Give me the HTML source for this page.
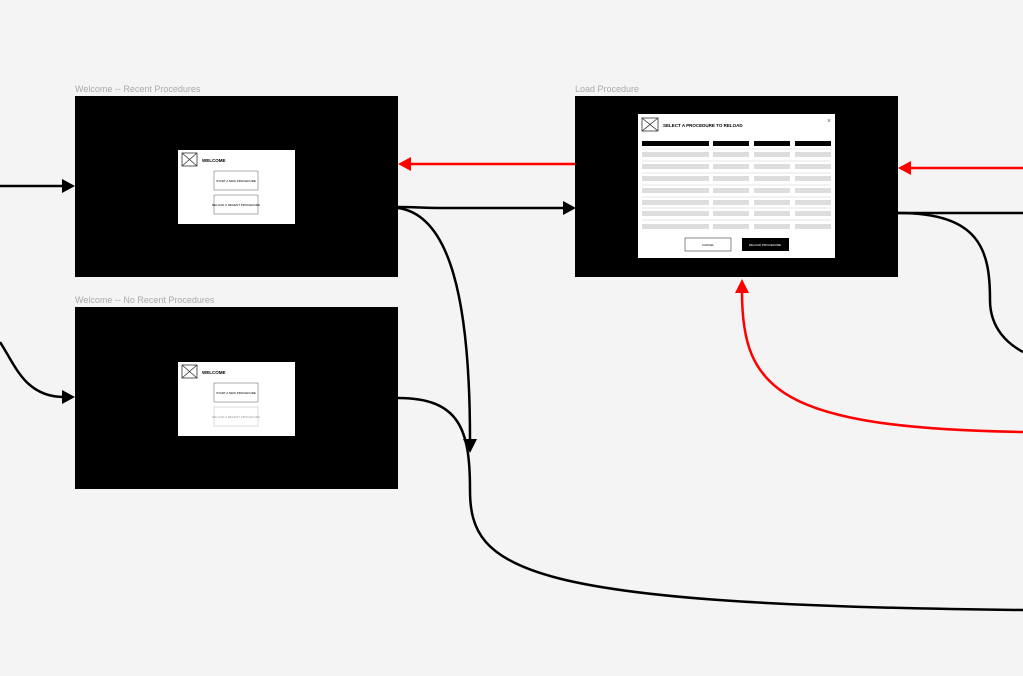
<!DOCTYPE html>
<html><head><style>
body{margin:0;background:#f4f4f4;font-family:"Liberation Sans",sans-serif;}
</style></head><body>
<svg width="1023" height="676" xmlns="http://www.w3.org/2000/svg" style="display:block">
<rect width="1023" height="676" fill="#f4f4f4"/>
<g font-family="Liberation Sans, sans-serif" font-size="9" fill="#aaa">
<text x="75" y="92">Welcome -- Recent Procedures</text>
<text x="75" y="303">Welcome -- No Recent Procedures</text>
<text x="575" y="92">Load Procedure</text>
</g>
<rect x="75" y="96" width="323" height="181" fill="#000"/>
<rect x="75" y="307" width="323" height="182" fill="#000"/>
<rect x="575" y="96" width="323" height="181" fill="#000"/>
<!-- welcome 1 -->
<g>
<rect x="178" y="150" width="117" height="74" fill="#fff"/>
<rect x="182" y="153" width="15" height="13" fill="none" stroke="#333" stroke-width="0.8"/>
<path d="M182,153 L197,166 M197,153 L182,166" stroke="#333" stroke-width="0.8"/>
<text x="202" y="162" font-size="4.5" font-weight="bold">WELCOME</text>
<rect x="214" y="171" width="44" height="19" fill="#fff" stroke="#888" stroke-width="0.7"/>
<text x="236" y="182" font-size="3" text-anchor="middle">START A NEW PROCEDURE</text>
<rect x="214" y="195" width="44" height="19" fill="#fff" stroke="#888" stroke-width="0.7"/>
<text x="236" y="206" font-size="3" text-anchor="middle">RELOAD A RECENT PROCEDURE</text>
</g>
<g>
<rect x="178" y="362" width="117" height="74" fill="#fff"/>
<rect x="182" y="365" width="15" height="13" fill="none" stroke="#333" stroke-width="0.8"/>
<path d="M182,365 L197,378 M197,365 L182,378" stroke="#333" stroke-width="0.8"/>
<text x="202" y="374" font-size="4.5" font-weight="bold">WELCOME</text>
<rect x="214" y="383" width="44" height="19" fill="#fff" stroke="#888" stroke-width="0.7"/>
<text x="236" y="394" font-size="3" text-anchor="middle">START A NEW PROCEDURE</text>
<rect x="214" y="407" width="44" height="19" fill="#fff" stroke="#ccc" stroke-width="0.7"/>
<text x="236" y="418" font-size="3" text-anchor="middle" fill="#999">RELOAD A RECENT PROCEDURE</text>
</g>
<!-- dialog -->
<g>
<rect x="638" y="114" width="197" height="144" fill="#fff"/>
<rect x="642" y="118" width="16" height="13" fill="none" stroke="#333" stroke-width="0.8"/>
<path d="M642,118 L658,131 M658,118 L642,131" stroke="#333" stroke-width="0.8"/>
<text x="663" y="127" font-size="4.5" font-weight="bold">SELECT A PROCEDURE TO RELOAD</text>
<text x="827" y="123" font-size="7" fill="#666">×</text>
<rect x="642" y="141" width="67" height="5" fill="#000"/>
<rect x="713" y="141" width="36" height="5" fill="#000"/>
<rect x="754" y="141" width="36" height="5" fill="#000"/>
<rect x="795" y="141" width="36" height="5" fill="#000"/>
<g fill="#ddd">
<rect x="642" y="152" width="67" height="5"/><rect x="713" y="152" width="36" height="5"/><rect x="754" y="152" width="36" height="5"/><rect x="795" y="152" width="36" height="5"/>
<rect x="642" y="164" width="67" height="5"/><rect x="713" y="164" width="36" height="5"/><rect x="754" y="164" width="36" height="5"/><rect x="795" y="164" width="36" height="5"/>
<rect x="642" y="176" width="67" height="5"/><rect x="713" y="176" width="36" height="5"/><rect x="754" y="176" width="36" height="5"/><rect x="795" y="176" width="36" height="5"/>
<rect x="642" y="188" width="67" height="5"/><rect x="713" y="188" width="36" height="5"/><rect x="754" y="188" width="36" height="5"/><rect x="795" y="188" width="36" height="5"/>
<rect x="642" y="200" width="67" height="5"/><rect x="713" y="200" width="36" height="5"/><rect x="754" y="200" width="36" height="5"/><rect x="795" y="200" width="36" height="5"/>
<rect x="642" y="211" width="67" height="5"/><rect x="713" y="211" width="36" height="5"/><rect x="754" y="211" width="36" height="5"/><rect x="795" y="211" width="36" height="5"/>
<rect x="642" y="224" width="67" height="5"/><rect x="713" y="224" width="36" height="5"/><rect x="754" y="224" width="36" height="5"/><rect x="795" y="224" width="36" height="5"/>
</g>
<g stroke="#ccc" stroke-width="0.6">
<line x1="642" y1="149" x2="831" y2="149"/><line x1="642" y1="161" x2="831" y2="161"/><line x1="642" y1="173" x2="831" y2="173"/><line x1="642" y1="185" x2="831" y2="185"/><line x1="642" y1="197" x2="831" y2="197"/><line x1="642" y1="208" x2="831" y2="208"/><line x1="642" y1="220" x2="831" y2="220"/>
</g>
<rect x="685" y="238" width="46" height="13" fill="#fff" stroke="#555" stroke-width="0.7"/>
<text x="708" y="246" font-size="3" text-anchor="middle">CANCEL</text>
<rect x="742" y="238" width="47" height="13" fill="#000"/>
<text x="765" y="246" font-size="3" text-anchor="middle" fill="#fff">RELOAD PROCEDURE</text>
</g>
<!-- connectors -->
<g fill="none" stroke="#000" stroke-width="2.5">
<path d="M0,186 L64,186"/>
<path d="M0,342 C15,365 25,397 64,397"/>
<path d="M398,207 C420,207 420,208 440,208 L564,208"/>
<path d="M398,208 C450,215 470,300 470,440"/>
<path d="M398,398 C460,398 470,430 470,490 C470,570 520,605 1023,610"/>
<path d="M898,213 L1023,213"/>
<path d="M898,213 C980,213 990,250 990,300 C990,330 1010,345 1023,352"/>
</g>
<g fill="none" stroke="#f00" stroke-width="2.5">
<path d="M575,164 L410,164"/>
<path d="M1023,168 L910,168"/>
<path d="M742,292 C742,390 780,428 1023,432"/>
</g>
<g fill="#000">
<path d="M75,186 L62,179 L62,193 Z"/>
<path d="M75,397 L62,390 L62,404 Z"/>
<path d="M576,208 L563,201 L563,215 Z"/>
<path d="M470,453 L463,439 L477,439 Z"/>
</g>
<g fill="#f00">
<path d="M398,164 L411,157 L411,171 Z"/>
<path d="M898,168 L911,161 L911,175 Z"/>
<path d="M742,279 L735,293 L749,293 Z"/>
</g>
</svg>
</body></html>
